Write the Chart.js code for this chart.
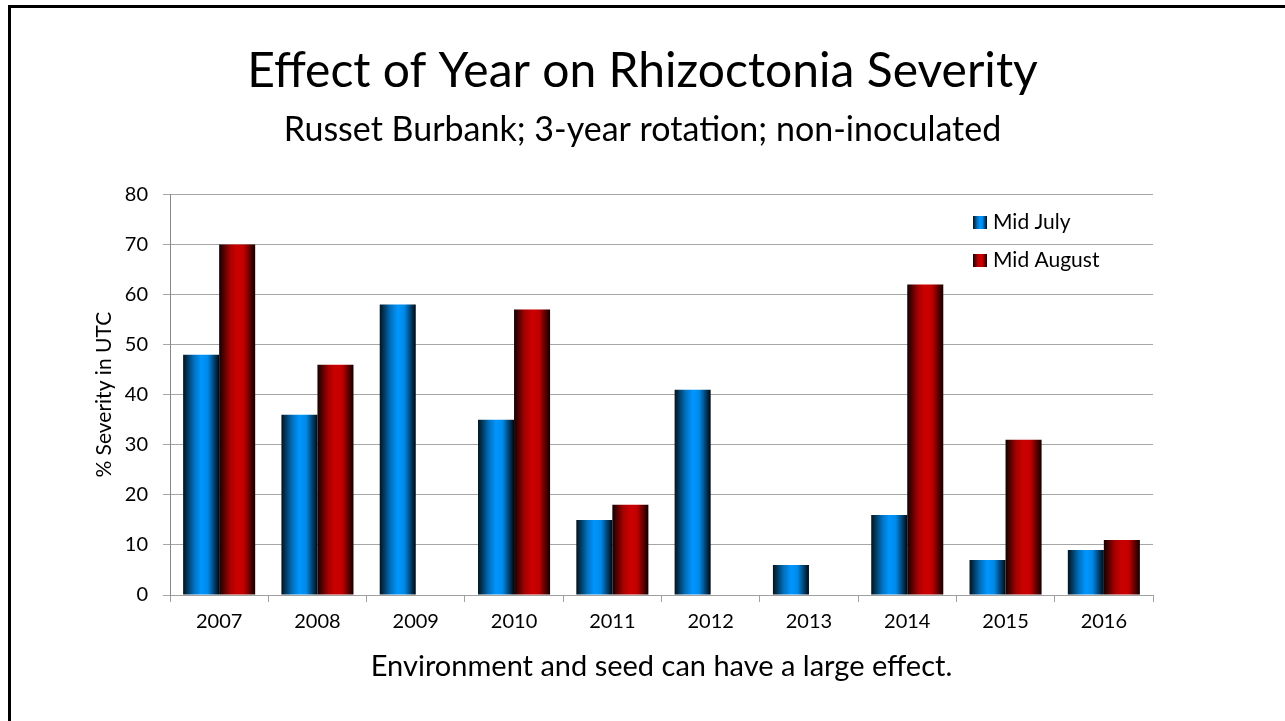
<!DOCTYPE html>
<html>
<head>
<meta charset="utf-8">
<script src="https://cdn.jsdelivr.net/npm/chart.js@4.4.1/dist/chart.umd.min.js"></script>
<style>
    html, body { margin: 0; padding: 0; background: #fff; overflow: hidden; }
    #wrap { position: relative; width: 1285px; height: 721px; overflow: hidden; }
    #frame { position: absolute; left: 8px; top: 5px; width: 1400px; height: 800px;
             border-left: 3px solid #000; border-top: 3px solid #000; pointer-events: none; }
    canvas { position: absolute; left: 0; top: 0; }
</style>
</head>
<body>
<div id="wrap">
    <canvas id="chart" width="1285" height="721"></canvas>
    <div id="frame"></div>
</div>
<script>
// Data
const years = ['2007', '2008', '2009', '2010', '2011', '2012', '2013', '2014', '2015', '2016'];
const midJuly = [48, 36, 58, 35, 15, 41, 6, 16, 7, 9];
const midAugust = [70, 46, null, 57, 18, null, null, 62, 31, 11];
const seriesNames = ['Mid July', 'Mid August'];
const yMin = 0, yMax = 80, yStep = 10;

const FONT = 'Lato, "Open Sans", sans-serif';
const CAT_PCT = 0.733;

const blueStops = [[0, '#001420'], [0.3, '#0070bf'], [0.5, '#0096ff'], [0.68, '#008ae8'], [1, '#00060c']];
const redStops = [[0, '#160000'], [0.3, '#a80000'], [0.5, '#cc0000'], [0.68, '#c20000'], [1, '#0c0000']];

function barGradient(context, stops) {
    const chart = context.chart;
    const xs = chart.scales.x;
    if (!xs || context.dataIndex === undefined) return stops[2][1];
    const catW = (xs.right - xs.left) / years.length;
    const center = xs.getPixelForValue(context.dataIndex);
    if (!isFinite(catW) || !isFinite(center) || catW <= 0) return stops[2][1];
    const barW = catW * CAT_PCT / 2;
    const left = context.datasetIndex === 0 ? center - barW : center;
    const g = chart.ctx.createLinearGradient(left, 0, left + barW, 0);
    stops.forEach(s => g.addColorStop(s[0], s[1]));
    return g;
}

function swatch(stops) {
    const c = document.createElement('canvas');
    c.width = 14; c.height = 13;
    const cx = c.getContext('2d');
    const g = cx.createLinearGradient(0, 0, 14, 0);
    stops.forEach(s => g.addColorStop(s[0], s[1]));
    cx.fillStyle = g;
    cx.fillRect(0, 0, 14, 13);
    return c;
}

// legend sits inside the plot, top right
const insideLegend = {
    id: 'insideLegend',
    afterDraw(chart) {
        const ctx = chart.ctx;
        const area = chart.chartArea;
        const boxes = [swatch(blueStops), swatch(redStops)];
        ctx.save();
        ctx.font = '21px ' + FONT;
        ctx.fillStyle = '#000';
        ctx.textBaseline = 'middle';
        ctx.textAlign = 'left';
        seriesNames.forEach((name, i) => {
            const y = area.top + 28 + i * 38;
            ctx.drawImage(boxes[i], area.right - 180, y - 6);
            ctx.fillText(name, area.right - 160, y);
        });
        ctx.restore();
    }
};

const chart = new Chart(document.getElementById('chart'), {
    type: 'bar',
    data: {
        labels: years,
        datasets: [
            {
                label: seriesNames[0],
                data: midJuly,
                backgroundColor: ctx => barGradient(ctx, blueStops),
                borderWidth: 0,
                categoryPercentage: CAT_PCT,
                barPercentage: 1
            },
            {
                label: seriesNames[1],
                data: midAugust,
                backgroundColor: ctx => barGradient(ctx, redStops),
                borderWidth: 0,
                categoryPercentage: CAT_PCT,
                barPercentage: 1
            }
        ]
    },
    options: {
        responsive: false,
        animation: false,
        layout: { padding: 0 },
        scales: {
            x: {
                grid: {
                    offset: true,
                    drawOnChartArea: false,
                    color: '#a0a0a0',
                    tickLength: 7
                },
                border: { color: '#a0a0a0', width: 1 },
                ticks: { color: '#000', font: { family: FONT, size: 20 }, padding: 8 },
                title: {
                    display: true,
                    text: 'Environment and seed can have a large effect.',
                    color: '#000',
                    font: { family: FONT, size: 29 },
                    padding: { top: 0, bottom: 37 }
                },
                afterFit(scale) { scale.height = 126; }
            },
            y: {
                min: yMin,
                max: yMax,
                ticks: { stepSize: yStep, color: '#000', font: { family: FONT, size: 20 }, padding: 15 },
                grid: { color: '#a6a6a6', tickLength: 7 },
                border: { color: '#888', width: 1 },
                title: {
                    display: true,
                    text: '% Severity in UTC',
                    color: '#000',
                    font: { family: FONT, size: 21 },
                    padding: { top: 92, bottom: 0 }
                },
                afterFit(scale) { scale.width = 170; }
            },
            // empty right-hand spacer so the titles stay centred on the whole slide
            spacer: {
                type: 'linear',
                position: 'right',
                display: true,
                grid: { display: false },
                border: { display: false },
                ticks: { display: false },
                afterFit(scale) { scale.width = 132; }
            }
        },
        plugins: {
            legend: { display: false },
            tooltip: { enabled: false },
            title: {
                display: true,
                text: 'Effect of Year on Rhizoctonia Severity',
                color: '#000',
                font: { family: FONT, size: 48, weight: 'normal' },
                padding: { top: 43, bottom: 5 }
            },
            subtitle: {
                display: true,
                text: 'Russet Burbank; 3-year rotation; non-inoculated',
                color: '#000',
                font: { family: FONT, size: 34 },
                padding: { top: 4, bottom: 44 }
            }
        }
    },
    plugins: [insideLegend]
});
// re-run once so the gradients see the laid-out x scale
chart.update();
</script>
</body>
</html>
